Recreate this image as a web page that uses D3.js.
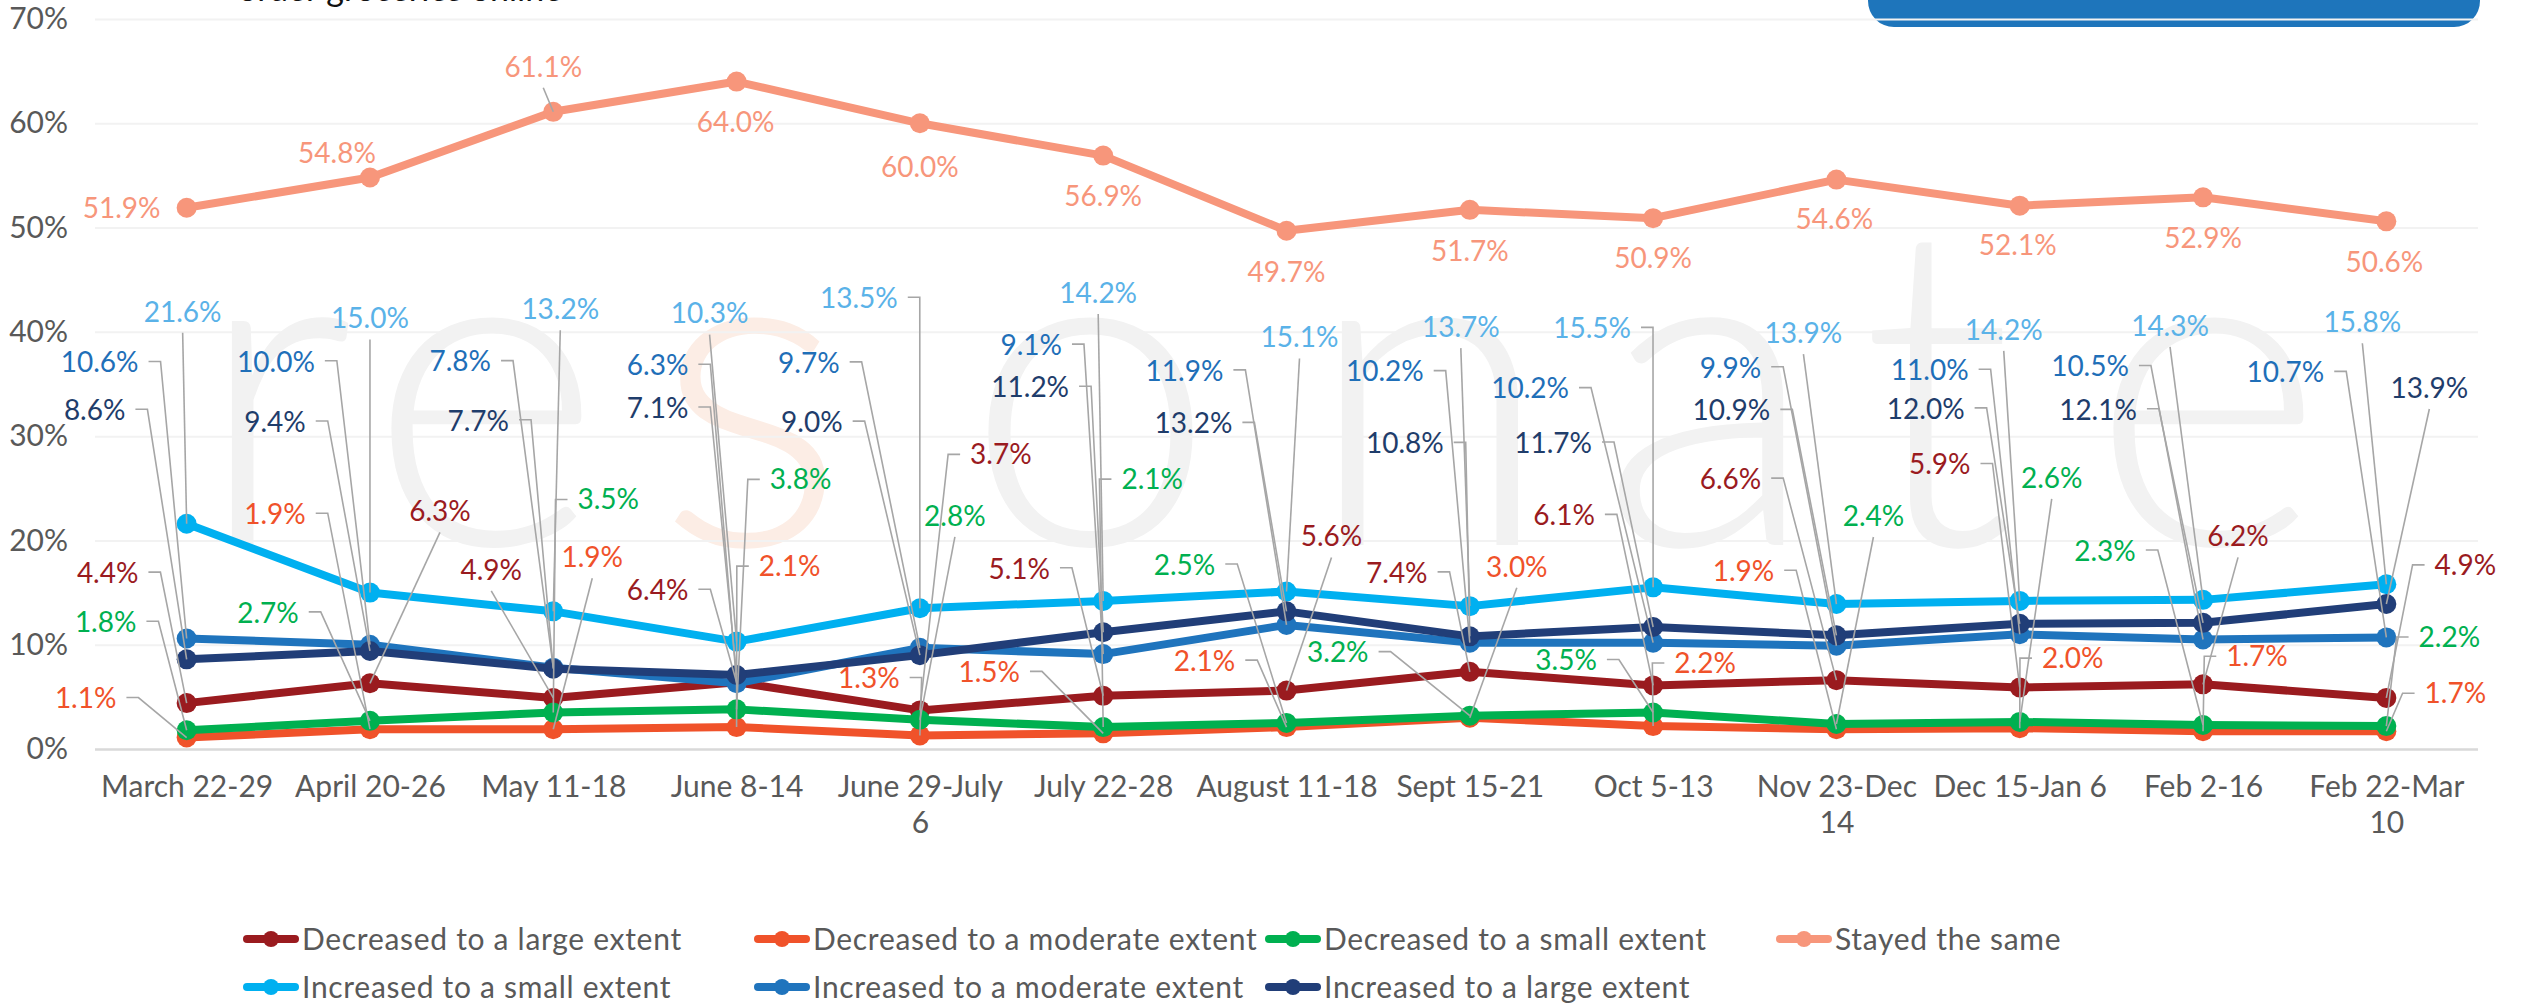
<!DOCTYPE html>
<html><head><meta charset="utf-8">
<script src="https://cdn.jsdelivr.net/npm/d3@7"></script>
<style>
html,body{margin:0;padding:0;background:#fff;overflow:hidden}
svg{display:block}
text{font-family:Lato,"Open Sans",sans-serif}
</style>
</head><body><div id="chart"></div>
<script>
// ---------- data ----------
const categories = ["March 22-29","April 20-26","May 11-18","June 8-14","June 29-July 6","July 22-28","August 11-18","Sept 15-21","Oct 5-13","Nov 23-Dec 14","Dec 15-Jan 6","Feb 2-16","Feb 22-Mar 10"];
const tickLabels = [["March 22-29"],["April 20-26"],["May 11-18"],["June 8-14"],["June 29-July","6"],["July 22-28"],["August 11-18"],["Sept 15-21"],["Oct 5-13"],["Nov 23-Dec","14"],["Dec 15-Jan 6"],["Feb 2-16"],["Feb 22-Mar","10"]];
const yTicks = [0,10,20,30,40,50,60,70];
const seriesNames = ["Decreased to a large extent","Decreased to a moderate extent","Decreased to a small extent","Stayed the same","Increased to a small extent","Increased to a moderate extent","Increased to a large extent"];
const decreasedLarge    = [4.4,6.3,4.9,6.4,3.7,5.1,5.6,7.4,6.1,6.6,5.9,6.2,4.9];
const decreasedModerate = [1.1,1.9,1.9,2.1,1.3,1.5,2.1,3.0,2.2,1.9,2.0,1.7,1.7];
const decreasedSmall    = [1.8,2.7,3.5,3.8,2.8,2.1,2.5,3.2,3.5,2.4,2.6,2.3,2.2];
const stayedSame        = [51.9,54.8,61.1,64.0,60.0,56.9,49.7,51.7,50.9,54.6,52.1,52.9,50.6];
const increasedSmall    = [21.6,15.0,13.2,10.3,13.5,14.2,15.1,13.7,15.5,13.9,14.2,14.3,15.8];
const increasedModerate = [10.6,10.0,7.8,6.3,9.7,9.1,11.9,10.2,10.2,9.9,11.0,10.5,10.7];
const increasedLarge    = [8.6,9.4,7.7,7.1,9.0,11.2,13.2,10.8,11.7,10.9,12.0,12.1,13.9];

// ---------- label layout (pixel offset from point, leader type) ----------
const decLargeLbl = [[-79,-130,"L"],[70,-172,"B"],[-62,-128,"B"],[-79,-92,"L"],[81,-256,"R"],[-84,-127,"L"],[45,-154,"B"],[-73,-99,"L"],[-89,-170,"L"],[-106,-201,"L"],[-80,-223,"L"],[35,-148,"B"],[79,-133,"R"]];
const decModLbl   = [[-101,-39,"L"],[-95,-215,"L"],[39,-172,"B"],[53,-161,"R"],[-51,-57,"L"],[-114,-61,"L"],[-82,-66,"L"],[47,-151,"B"],[52,-63,"R"],[-93,-158,"L"],[53,-70,"R"],[54,-75,"R"],[69,-38,"R"]];
const decSmallLbl = [[-81,-108,"L"],[-102,-108,"L"],[55,-213,"R"],[64,-230,"R"],[35,-204,"B"],[49,-248,"R"],[-102,-158,"L"],[-132,-63,"L"],[-87,-52,"L"],[37,-208,"B"],[32,-244,"B"],[-98,-174,"L"],[63,-89,"R"]];
const stayedLbl   = [[-65,0,"N"],[-33,-24,"N"],[-10,-45,"B"],[-1,41,"N"],[0,44,"N"],[0,41,"N"],[0,41,"N"],[0,41,"N"],[0,40,"N"],[-2,40,"N"],[-2,40,"N"],[0,41,"N"],[-2,41,"N"]];
const incSmallLbl = [[-4,-212,"B"],[0,-274,"B"],[7,-302,"B"],[-27,-328,"B"],[-61,-310,"L"],[-5,-308,"B"],[13,-254,"B"],[-9,-279,"B"],[-61,-259,"L"],[-33,-271,"B"],[-16,-271,"B"],[-33,-274,"B"],[-24,-262,"B"]];
const incModLbl   = [[-87,-276,"L"],[-94,-283,"L"],[-93,-306,"L"],[-79,-318,"L"],[-111,-285,"L"],[-72,-309,"L"],[-102,-254,"L"],[-85,-271,"L"],[-123,-254,"L"],[-106,-278,"L"],[-90,-264,"L"],[-113,-273,"L"],[-101,-265,"L"]];
const incLargeLbl = [[-92,-249,"L"],[-95,-229,"L"],[-75,-248,"L"],[-79,-267,"L"],[-108,-233,"L"],[-73,-245,"L"],[-93,-188,"L"],[-65,-193,"L"],[-100,-184,"L"],[-105,-225,"L"],[-94,-215,"L"],[-105,-213,"L"],[43,-216,"B"]];

const lineColors  = ["#9A1B1F","#F0522A","#00B050","#F7967B","#00B0F0","#1F74BD","#213E78"];
const labelColors = ["#9A1B1F","#F0522A","#00B050","#F7967B","#5AB2E8","#1F6FB8","#1F3D6B"];

const series = [
  {name:seriesNames[0], values:decreasedLarge,    labels:decLargeLbl},
  {name:seriesNames[1], values:decreasedModerate, labels:decModLbl},
  {name:seriesNames[2], values:decreasedSmall,    labels:decSmallLbl},
  {name:seriesNames[3], values:stayedSame,        labels:stayedLbl},
  {name:seriesNames[4], values:increasedSmall,    labels:incSmallLbl},
  {name:seriesNames[5], values:increasedModerate, labels:incModLbl},
  {name:seriesNames[6], values:increasedLarge,    labels:incLargeLbl}
].map((s,i)=>Object.assign(s,{color:lineColors[i], labelColor:labelColors[i]}));

// ---------- chart ----------
const W = 2527, H = 1004;
const X0 = 95, X1 = 2478, Y0 = 749, Y1 = 19;
const FONT = "Lato, 'Open Sans', sans-serif";

const svg = d3.select("#chart").append("svg").attr("width",W).attr("height",H);
svg.append("rect").attr("width",W).attr("height",H).attr("fill","#fff");

const x = d3.scalePoint().domain(categories).range([X0,X1]).padding(0.5);
const y = d3.scaleLinear().domain([0,70]).range([Y0,Y1]);

// watermark (background decoration)
const wmLetters = ["r","e","s","o","n","a","t","e"];
const wmX = [195, 368, 655, 965, 1305, 1600, 1860, 2090];
const wm = svg.append("g").attr("font-size",450).attr("font-weight",300).attr("font-family",FONT);
wmLetters.forEach((ch,i)=>{
  wm.append("text").attr("x",wmX[i]).attr("y",545)
    .attr("fill", ch==="s" && i===2 ? "#FCEDE5" : "#F2F2F2").text(ch);
});

// title fragment and header box (cropped at top)
svg.append("text").attr("x",238).attr("y",1).attr("font-size",34).attr("fill","#111")
  .text("order groceries online");
svg.append("rect").attr("x",1868).attr("y",-40).attr("width",612).attr("height",67)
  .attr("rx",26).attr("fill","#1E75BB");

// y axis + gridlines
const gy = svg.append("g").attr("transform",`translate(${X0},0)`)
  .call(d3.axisLeft(y).tickValues(yTicks).tickFormat(d=>d+"%").tickSize(-(X1-X0)).tickPadding(27));
gy.attr("font-family",FONT).attr("font-size",30);
gy.select(".domain").remove();
gy.selectAll(".tick line").attr("stroke",d=>d===0?"#D9D9D9":"#F2F2F2").attr("stroke-width",d=>d===0?2.5:2);
gy.selectAll(".tick text").attr("fill","#595959");

// x axis labels
const gx = svg.append("g").attr("transform",`translate(0,${Y0})`)
  .call(d3.axisBottom(x).tickSize(0).tickPadding(0).tickFormat(""));
gx.attr("font-family",FONT).attr("font-size",30);
gx.select(".domain").remove();
gx.selectAll(".tick").each(function(d,i){
  const t = d3.select(this).select("text").attr("fill","#595959").attr("y",null).attr("dy",null);
  tickLabels[i].forEach((ln,j)=>{
    t.append("tspan").attr("x",0).attr("y",37+j*36).attr("dy","0.35em").text(ln);
  });
});

// lines and markers
const line = d3.line().x((d,i)=>x(categories[i])).y(d=>y(d));
const linesG = svg.append("g");
series.forEach(s=>{
  const g = linesG.append("g");
  g.append("path").attr("d",line(s.values)).attr("fill","none")
    .attr("stroke",s.color).attr("stroke-width",8).attr("stroke-linejoin","round");
  g.selectAll("circle").data(s.values).join("circle")
    .attr("cx",(d,i)=>x(categories[i])).attr("cy",d=>y(d)).attr("r",10).attr("fill",s.color);
});

// data labels with leader lines
const leadersG = svg.append("g");
const labelsG = svg.append("g").attr("font-family",FONT).attr("font-size",28);
series.forEach(s=>{
  s.values.forEach((v,i)=>{
    const px = x(categories[i]), py = y(v);
    const [dx,dy,type] = s.labels[i];
    const cx = px+dx, cy = py+dy;
    const t = labelsG.append("text").attr("x",cx).attr("y",cy).attr("dy","0.35em")
      .attr("text-anchor","middle").attr("fill",s.labelColor).text(v.toFixed(1)+"%");
    const w = t.node().getComputedTextLength();
    let pts = null;
    if(type==="L") pts = [[cx+w/2+10,cy-1],[cx+w/2+22,cy-1],[px,py]];
    else if(type==="R") pts = [[cx-w/2-10,cy],[cx-w/2-22,cy],[px,py]];
    else if(type==="B") pts = [[cx,cy+21],[px,py]];
    if(pts) leadersG.append("path").attr("d",d3.line()(pts)).attr("fill","none")
      .attr("stroke","#A6A6A6").attr("stroke-width",1.6);
  });
});

// legend
const legendG = svg.append("g").attr("font-family",FONT).attr("font-size",30).attr("letter-spacing",0.7);
series.forEach((s,i)=>{
  const col = i<4 ? i : i-4, row = i<4 ? 0 : 1;
  const lx = 243 + col*511, ly = 939 + row*48;
  const g = legendG.append("g").attr("transform",`translate(${lx},${ly})`);
  g.append("line").attr("x1",4).attr("x2",52).attr("y1",0).attr("y2",0)
    .attr("stroke",s.color).attr("stroke-width",8).attr("stroke-linecap","round");
  g.append("circle").attr("cx",28).attr("cy",0).attr("r",8).attr("fill",s.color);
  g.append("text").attr("x",59).attr("y",0).attr("dy","0.35em").attr("fill","#595959").text(s.name);
});
</script>
</body></html>
